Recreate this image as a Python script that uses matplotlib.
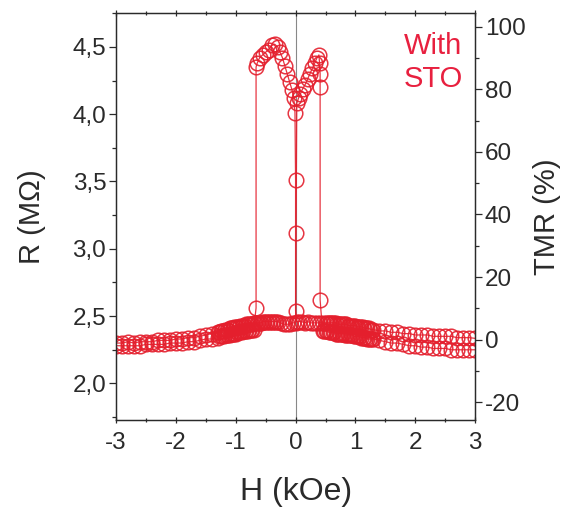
import matplotlib

matplotlib.use("Agg")
import matplotlib.pyplot as plt
from matplotlib.ticker import FuncFormatter, MultipleLocator

plt.rcParams["font.family"] = ["Liberation Sans", "DejaVu Sans"]
plt.rcParams["axes.unicode_minus"] = False

RED = "#e41f2d"
INK = "#2a2a2a"
R_PARALLEL = 2.325  # MOhm, the TMR = 0 reference

# sweep from -3 kOe up to +3 kOe
H_UP = [
    -3.0, -2.9, -2.8, -2.7, -2.6, -2.5, -2.4, -2.3, -2.2, -2.1, -2.0, -1.9, -1.8,
    -1.7, -1.6, -1.5, -1.4,
    -1.3, -1.275, -1.25, -1.225, -1.2, -1.175, -1.15, -1.125, -1.1, -1.075, -1.05,
    -1.025, -1.0, -0.975, -0.95, -0.925, -0.9, -0.875, -0.85, -0.825, -0.8, -0.775,
    -0.75, -0.725, -0.7, -0.675, -0.65, -0.625, -0.6, -0.575, -0.55, -0.525, -0.5,
    -0.475, -0.45, -0.425, -0.4, -0.375, -0.35, -0.325, -0.3,
    -0.25, -0.2, -0.15, -0.1, -0.05, 0.0,
    0.02, 0.05, 0.08, 0.12, 0.16, 0.2, 0.24, 0.28, 0.32, 0.36, 0.39, 0.4, 0.41, 0.41,
    0.41,
    0.45, 0.475, 0.5, 0.525, 0.55, 0.575, 0.6, 0.625, 0.65, 0.675, 0.7, 0.725, 0.75,
    0.775, 0.8, 0.825, 0.85, 0.875, 0.9, 0.925, 0.95, 0.975, 1.0, 1.025, 1.05,
    1.075, 1.1, 1.125, 1.15, 1.175, 1.2, 1.225, 1.25, 1.275, 1.3,
    1.4, 1.5, 1.6, 1.7, 1.8, 1.9, 2.0, 2.1, 2.2, 2.3, 2.4, 2.5, 2.6, 2.7, 2.8, 2.9,
    3.0,
]
R_UP = [
    2.30, 2.30, 2.31, 2.30, 2.31, 2.31, 2.31, 2.32, 2.32, 2.32, 2.33, 2.33, 2.34,
    2.34, 2.35, 2.36, 2.37,
    2.38, 2.38, 2.39, 2.39, 2.39, 2.40, 2.40, 2.40, 2.41, 2.41, 2.41,
    2.42, 2.42, 2.42, 2.42, 2.43, 2.43, 2.43, 2.43, 2.44, 2.44, 2.44,
    2.44, 2.44, 2.45, 2.45, 2.45, 2.45, 2.45, 2.45, 2.46, 2.46, 2.46,
    2.46, 2.46, 2.46, 2.46, 2.46, 2.46, 2.46, 2.46,
    2.45, 2.44, 2.44, 2.44, 2.45, 2.45,
    4.08, 4.12, 4.15, 4.19, 4.22, 4.26, 4.30, 4.34, 4.38, 4.42, 4.44, 4.38, 4.30, 4.20,
    2.62,
    2.39, 2.39, 2.39, 2.39, 2.38, 2.38, 2.38, 2.38, 2.38, 2.37, 2.37, 2.37, 2.37,
    2.37, 2.37, 2.36, 2.36, 2.36, 2.36, 2.36, 2.36, 2.35, 2.35, 2.35, 2.35,
    2.35, 2.34, 2.34, 2.34, 2.34, 2.33, 2.33, 2.33, 2.33, 2.33,
    2.32, 2.31, 2.30, 2.30, 2.29, 2.28, 2.28, 2.27, 2.27, 2.26, 2.26, 2.26, 2.25,
    2.25, 2.25, 2.25, 2.25,
]

# sweep from +3 kOe down to -3 kOe
H_DOWN = [
    3.0, 2.9, 2.8, 2.7, 2.6, 2.5, 2.4, 2.3, 2.2, 2.1, 2.0, 1.9, 1.8, 1.7, 1.6, 1.5,
    1.4,
    1.3, 1.275, 1.25, 1.225, 1.2, 1.175, 1.15, 1.125, 1.1, 1.075, 1.05, 1.025, 1.0,
    0.975, 0.95, 0.925, 0.9, 0.875, 0.85, 0.825, 0.8, 0.775, 0.75, 0.725, 0.7,
    0.675, 0.65, 0.625, 0.6, 0.575, 0.55, 0.525, 0.5,
    0.45, 0.4, 0.35, 0.3, 0.25, 0.2, 0.15, 0.1, 0.05, 0.02,
    0.0, 0.0, 0.0, -0.01,
    -0.03, -0.06, -0.1, -0.14, -0.18, -0.22, -0.26, -0.3, -0.35, -0.4, -0.45, -0.5,
    -0.55, -0.6, -0.64, -0.66,
    -0.66,
    -0.7, -0.725, -0.75, -0.775, -0.8, -0.825, -0.85, -0.875, -0.9, -0.925, -0.95,
    -0.975, -1.0, -1.025, -1.05, -1.075, -1.1, -1.125, -1.15, -1.175, -1.2, -1.225,
    -1.25, -1.275, -1.3,
    -1.4, -1.5, -1.6, -1.7, -1.8, -1.9, -2.0, -2.1, -2.2, -2.3, -2.4, -2.5, -2.6,
    -2.7, -2.8, -2.9, -3.0,
]
R_DOWN = [
    2.335, 2.34, 2.34, 2.34, 2.35, 2.35, 2.35, 2.35, 2.36, 2.36, 2.36, 2.37, 2.37,
    2.38, 2.38, 2.39, 2.39,
    2.40, 2.40, 2.40, 2.41, 2.41, 2.41, 2.41, 2.42, 2.42, 2.42, 2.42, 2.42, 2.43,
    2.43, 2.43, 2.43, 2.43, 2.43, 2.44, 2.44, 2.44, 2.44, 2.44, 2.44, 2.44,
    2.45, 2.45, 2.45, 2.45, 2.45, 2.45, 2.45, 2.45,
    2.45, 2.45, 2.45, 2.45, 2.45, 2.46, 2.45, 2.46, 2.46, 2.46,
    2.54, 3.12, 3.51, 4.01,
    4.12, 4.18, 4.24, 4.30, 4.36, 4.42, 4.46, 4.50, 4.52, 4.51, 4.48, 4.46,
    4.44, 4.42, 4.38, 4.35,
    2.56,
    2.40, 2.40, 2.40, 2.40, 2.39, 2.39, 2.39, 2.39, 2.38, 2.38, 2.38,
    2.38, 2.37, 2.37, 2.37, 2.37, 2.36, 2.36, 2.36, 2.36, 2.35, 2.35,
    2.35, 2.35, 2.34,
    2.33, 2.33, 2.32, 2.31, 2.31, 2.30, 2.30, 2.30, 2.29, 2.29, 2.29, 2.29, 2.28,
    2.28, 2.28, 2.28, 2.28,
]

R_TICKS = [2.0, 2.5, 3.0, 3.5, 4.0, 4.5]
TMR_TICKS = [-20, 0, 20, 40, 60, 80, 100]
H_TICKS = [-3, -2, -1, 0, 1, 2, 3]


def to_tmr(r):
    return (r / R_PARALLEL - 1.0) * 100.0


fig = plt.figure(figsize=(5.63, 5.07), dpi=100)
ax = fig.add_axes([0.206, 0.172, 0.638, 0.802])

ax.axvline(0, color="#888888", lw=0.8, zorder=0)
for h, r in ((H_UP, R_UP), (H_DOWN, R_DOWN)):
    # open circles joined by a thin line, in sweep order
    ax.plot(h, r, "-o", color=RED, lw=0.9, ms=10.5, mew=1.1,
            mfc="none", mec=RED, alpha=0.9, zorder=2)

ax.set_xlim(-3, 3)
ax.set_ylim(1.73, 4.75)
ax.set_xticks(H_TICKS)
ax.set_yticks(R_TICKS)
ax.xaxis.set_minor_locator(MultipleLocator(0.5))
ax.yaxis.set_minor_locator(MultipleLocator(0.25))
ax.yaxis.set_major_formatter(FuncFormatter(lambda v, _: f"{v:.1f}".replace(".", ",")))
ax.tick_params(which="both", direction="out", width=0.9, colors=INK,
               labelsize=17.5, top=True)
ax.tick_params(which="major", length=5)
ax.tick_params(which="minor", length=3)
ax.tick_params(axis="x", which="both", top=True, direction="inout")
ax.tick_params(axis="x", pad=6)
ax.tick_params(axis="y", pad=2)

ax.set_xlabel("H (kOe)", fontsize=23, color=INK, labelpad=17)
ax.set_ylabel("R (M\u03a9)", fontsize=21, color=INK, labelpad=19)

ax2 = ax.twinx()
lo, hi = ax.get_ylim()
ax2.set_ylim(to_tmr(lo), to_tmr(hi))
ax2.set_yticks(TMR_TICKS)
ax2.yaxis.set_minor_locator(MultipleLocator(10))
ax2.tick_params(which="both", direction="out", width=0.9, colors=INK,
                labelsize=17.5, pad=2)
ax2.tick_params(which="major", length=5)
ax2.tick_params(which="minor", length=3)
ax2.set_ylabel("TMR (%)", fontsize=21, color=INK, labelpad=5)

for spine in list(ax.spines.values()) + list(ax2.spines.values()):
    spine.set_linewidth(0.9)
    spine.set_color(INK)

ax.text(0.965, 0.953, "With\nSTO", transform=ax.transAxes, ha="right", va="top",
        fontsize=21, color="#e8203f", linespacing=1.2)

fig.savefig("out.png", dpi=100, facecolor="white")
